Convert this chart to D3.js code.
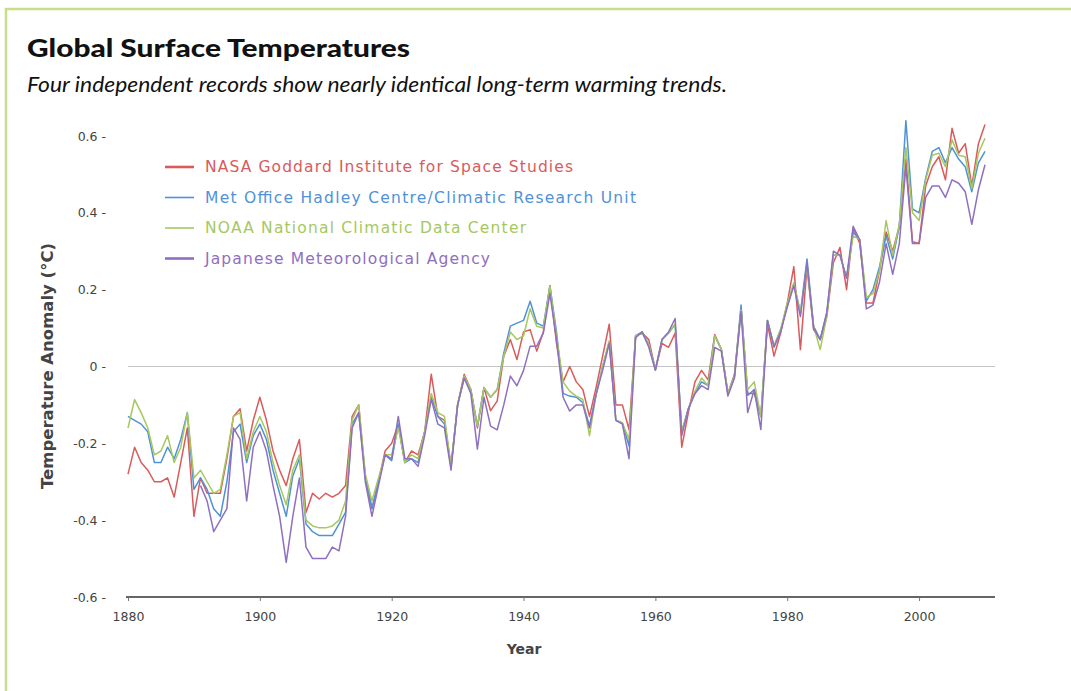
<!DOCTYPE html>
<html>
<head>
<meta charset="utf-8">
<script src="https://cdn.jsdelivr.net/npm/d3@7"></script>
<style>
  html, body { margin: 0; padding: 0; background: #fff; }
  svg { display: block; }
</style>
</head>
<body>
<svg id="chart" width="1071" height="691"></svg>
<script>
const startYear = 1880;
const jmaStartYear = 1891;

const nasaValues = [
  -0.28,-0.21,-0.25,-0.27,-0.30,-0.30,-0.29,-0.34,-0.25,-0.16,
  -0.39,-0.29,-0.33,-0.33,-0.33,-0.24,-0.13,-0.11,-0.22,-0.14,
  -0.08,-0.14,-0.22,-0.27,-0.31,-0.24,-0.19,-0.38,-0.33,-0.345,
  -0.33,-0.34,-0.33,-0.31,-0.13,-0.10,-0.29,-0.37,-0.30,-0.22,
  -0.20,-0.15,-0.25,-0.22,-0.23,-0.17,-0.02,-0.13,-0.14,-0.26,
  -0.10,-0.02,-0.06,-0.16,-0.055,-0.115,-0.09,0.027,0.07,0.018,
  0.09,0.096,0.04,0.09,0.21,0.06,-0.04,0.0,-0.04,-0.06,
  -0.13,-0.055,0.027,0.11,-0.10,-0.10,-0.164,0.08,0.087,0.07,
  -0.008,0.06,0.05,0.087,-0.21,-0.12,-0.04,-0.01,-0.035,0.083,
  0.045,-0.07,-0.02,0.15,-0.07,-0.07,-0.13,0.11,0.027,0.087,
  0.165,0.26,0.044,0.26,0.096,0.07,0.13,0.27,0.31,0.20,
  0.36,0.32,0.165,0.165,0.25,0.35,0.30,0.365,0.54,0.325,
  0.32,0.47,0.52,0.546,0.486,0.62,0.555,0.58,0.47,0.58,
  0.63
];

const hadleyValues = [
  -0.13,-0.14,-0.15,-0.17,-0.25,-0.25,-0.21,-0.24,-0.19,-0.12,
  -0.32,-0.29,-0.32,-0.37,-0.39,-0.30,-0.17,-0.15,-0.25,-0.18,
  -0.15,-0.19,-0.27,-0.33,-0.39,-0.285,-0.24,-0.41,-0.43,-0.44,
  -0.44,-0.44,-0.41,-0.38,-0.15,-0.12,-0.285,-0.37,-0.30,-0.23,
  -0.245,-0.15,-0.25,-0.24,-0.25,-0.17,-0.08,-0.13,-0.15,-0.26,
  -0.10,-0.03,-0.06,-0.155,-0.055,-0.08,-0.06,0.035,0.105,0.113,
  0.12,0.17,0.113,0.105,0.21,0.09,-0.07,-0.077,-0.08,-0.094,
  -0.155,-0.073,0.0,0.066,-0.14,-0.147,-0.207,0.08,0.09,0.057,
  -0.008,0.07,0.087,0.11,-0.17,-0.11,-0.07,-0.04,-0.05,0.08,
  0.045,-0.07,-0.025,0.16,-0.075,-0.06,-0.13,0.12,0.053,0.096,
  0.157,0.217,0.14,0.28,0.105,0.07,0.14,0.29,0.29,0.23,
  0.35,0.33,0.17,0.20,0.26,0.34,0.28,0.365,0.64,0.41,
  0.40,0.49,0.56,0.57,0.53,0.57,0.54,0.52,0.455,0.53,
  0.56
];

const noaaValues = [
  -0.16,-0.086,-0.12,-0.16,-0.23,-0.22,-0.18,-0.25,-0.21,-0.12,
  -0.29,-0.27,-0.30,-0.33,-0.32,-0.23,-0.13,-0.12,-0.24,-0.17,
  -0.13,-0.17,-0.25,-0.31,-0.36,-0.27,-0.23,-0.40,-0.415,-0.42,
  -0.42,-0.415,-0.40,-0.35,-0.14,-0.10,-0.28,-0.35,-0.29,-0.23,
  -0.23,-0.16,-0.25,-0.23,-0.24,-0.17,-0.07,-0.12,-0.13,-0.26,
  -0.10,-0.025,-0.06,-0.155,-0.055,-0.08,-0.06,0.027,0.09,0.07,
  0.08,0.15,0.105,0.10,0.21,0.08,-0.04,-0.064,-0.077,-0.086,
  -0.18,-0.073,0.0,0.066,-0.14,-0.147,-0.19,0.08,0.087,0.057,
  -0.008,0.07,0.087,0.11,-0.17,-0.11,-0.065,-0.03,-0.05,0.08,
  0.045,-0.07,-0.025,0.148,-0.06,-0.04,-0.13,0.12,0.053,0.096,
  0.165,0.217,0.14,0.26,0.105,0.044,0.13,0.29,0.29,0.23,
  0.34,0.33,0.18,0.19,0.25,0.38,0.29,0.37,0.57,0.40,
  0.38,0.485,0.55,0.555,0.52,0.59,0.55,0.546,0.464,0.555,
  0.594
];

const jmaValues = [
  -0.31,-0.35,-0.43,-0.40,-0.37,-0.16,-0.19,-0.35,-0.21,
  -0.17,-0.22,-0.31,-0.39,-0.51,-0.39,-0.29,-0.47,-0.50,-0.50,
  -0.50,-0.47,-0.48,-0.39,-0.16,-0.12,-0.30,-0.39,-0.31,-0.23,
  -0.24,-0.13,-0.24,-0.24,-0.26,-0.18,-0.085,-0.15,-0.16,-0.27,
  -0.10,-0.03,-0.07,-0.215,-0.08,-0.155,-0.165,-0.10,-0.025,-0.05,
  -0.01,0.053,0.053,0.087,0.19,0.07,-0.08,-0.116,-0.10,-0.10,
  -0.16,-0.073,-0.01,0.06,-0.14,-0.15,-0.24,0.075,0.09,0.05,
  -0.01,0.07,0.09,0.125,-0.18,-0.11,-0.07,-0.05,-0.06,0.05,
  0.04,-0.077,-0.03,0.144,-0.12,-0.06,-0.164,0.12,0.05,0.09,
  0.155,0.21,0.13,0.27,0.10,0.07,0.14,0.30,0.29,0.23,
  0.365,0.33,0.15,0.16,0.22,0.32,0.24,0.32,0.52,0.32,
  0.32,0.44,0.47,0.47,0.44,0.486,0.477,0.455,0.37,0.46,
  0.525
];

const seriesNames = [
  "NASA Goddard Institute for Space Studies",
  "Met Office Hadley Centre/Climatic Research Unit",
  "NOAA National Climatic Data Center",
  "Japanese Meteorological Agency"
];
const seriesColors = ["#d95b5b", "#4f92d8", "#a6c85e", "#8f6fc0"];
const yTicks = [-0.6, -0.4, -0.2, 0, 0.2, 0.4, 0.6];
const xTicks = [1880, 1900, 1920, 1940, 1960, 1980, 2000];

const legendWidths = [368, 431, 321, 285];
const series = [
  { name: seriesNames[0], color: seriesColors[0], start: startYear, values: nasaValues, legendW: 2.6 },
  { name: seriesNames[1], color: seriesColors[1], start: startYear, values: hadleyValues, legendW: 1.6 },
  { name: seriesNames[2], color: seriesColors[2], start: startYear, values: noaaValues, legendW: 1.6 },
  { name: seriesNames[3], color: seriesColors[3], start: jmaStartYear, values: jmaValues, legendW: 2.6 }
];

const svg = d3.select("#chart");

// Frame border
svg.append("path")
  .attr("d", "M6,691 L6,9 L1071,9")
  .attr("fill", "none")
  .attr("stroke", "#c6df88")
  .attr("stroke-width", 2.5);

// Title & subtitle
svg.append("text")
  .attr("x", 27).attr("y", 57)
  .attr("font-family", "Lato, 'Open Sans', sans-serif")
  .attr("font-weight", 900)
  .attr("font-size", 24)
  .attr("fill", "#111")
  .attr("textLength", 383)
  .attr("lengthAdjust", "spacingAndGlyphs")
  .text("Global Surface Temperatures");

svg.append("text")
  .attr("x", 27).attr("y", 92)
  .attr("font-family", "Lato, 'Open Sans', sans-serif")
  .attr("font-style", "italic")
  .attr("font-size", 20.5)
  .attr("fill", "#111")
  .attr("textLength", 700)
  .attr("lengthAdjust", "spacingAndGlyphs")
  .text("Four independent records show nearly identical long-term warming trends.");

const x = d3.scaleLinear().domain([1880, 2010]).range([128, 985]);
const y = d3.scaleLinear().domain([-0.6, 0.6]).range([597, 136]);

// zero line
svg.append("line")
  .attr("x1", 128).attr("x2", 995)
  .attr("y1", y(0)).attr("y2", y(0))
  .attr("stroke", "#c4c4c4").attr("stroke-width", 1.2);

// Y axis (labels only with dash tick)
const yAxis = d3.axisLeft(y)
  .tickValues(yTicks)
  .tickSize(0)
  .tickPadding(0)
  .tickFormat(d => (d === 0 ? "0" : d3.format(".1f")(d).replace("\u2212", "-")) + " -");
const gy = svg.append("g").attr("transform", "translate(106,0)").call(yAxis);
gy.select(".domain").remove();
gy.selectAll("text")
  .attr("font-family", "'DejaVu Sans', Verdana, sans-serif")
  .attr("font-size", 12.5)
  .attr("fill", "#444");

// X axis
const xAxis = d3.axisBottom(x)
  .tickValues(xTicks)
  .tickSize(4)
  .tickPadding(11)
  .tickFormat(d3.format("d"));
const gx = svg.append("g").attr("transform", "translate(0,597)").call(xAxis);
gx.select(".domain").remove();
gx.append("line")
  .attr("x1", 126).attr("x2", 995)
  .attr("y1", 0).attr("y2", 0)
  .attr("stroke", "#666").attr("stroke-width", 2);
gx.selectAll(".tick line").attr("stroke", "#777");
gx.selectAll("text")
  .attr("font-family", "'DejaVu Sans', Verdana, sans-serif")
  .attr("font-size", 12.5)
  .attr("fill", "#444");

// Axis titles
svg.append("text")
  .attr("x", 524).attr("y", 654)
  .attr("text-anchor", "middle")
  .attr("font-family", "'DejaVu Sans', Verdana, sans-serif")
  .attr("font-weight", "bold")
  .attr("font-size", 14)
  .attr("fill", "#444")
  .text("Year");

svg.append("text")
  .attr("transform", "translate(53,366) rotate(-90)")
  .attr("text-anchor", "middle")
  .attr("font-family", "'DejaVu Sans', Verdana, sans-serif")
  .attr("font-weight", "bold")
  .attr("font-size", 15)
  .attr("fill", "#444")
  .attr("textLength", 246)
  .attr("lengthAdjust", "spacingAndGlyphs")
  .text("Temperature Anomaly (°C)");

// Lines
const line = d3.line()
  .x(d => x(d.year))
  .y(d => y(d.value));

series.forEach(s => {
  const pts = s.values.map((v, i) => ({ year: s.start + i, value: v }));
  svg.append("path")
    .datum(pts)
    .attr("fill", "none")
    .attr("stroke", s.color)
    .attr("stroke-width", 1.5)
    .attr("stroke-linejoin", "round")
    .attr("d", line);
});

// Legend
const legend = svg.append("g").attr("transform", "translate(165,167)");
series.forEach((s, i) => {
  const g = legend.append("g").attr("transform", `translate(0,${i * 30.5})`);
  g.append("line")
    .attr("x1", 0).attr("x2", 29)
    .attr("y1", 0).attr("y2", 0)
    .attr("stroke", s.color)
    .attr("stroke-width", s.legendW);
  g.append("text")
    .attr("x", 40).attr("y", 0)
    .attr("dy", "0.35em")
    .attr("font-family", "'DejaVu Sans', Verdana, sans-serif")
    .attr("font-size", 15.5)
    .attr("fill", s.color)
    .attr("textLength", legendWidths[i])
    .attr("lengthAdjust", "spacing")
    .text(s.name);
});
</script>
</body>
</html>
